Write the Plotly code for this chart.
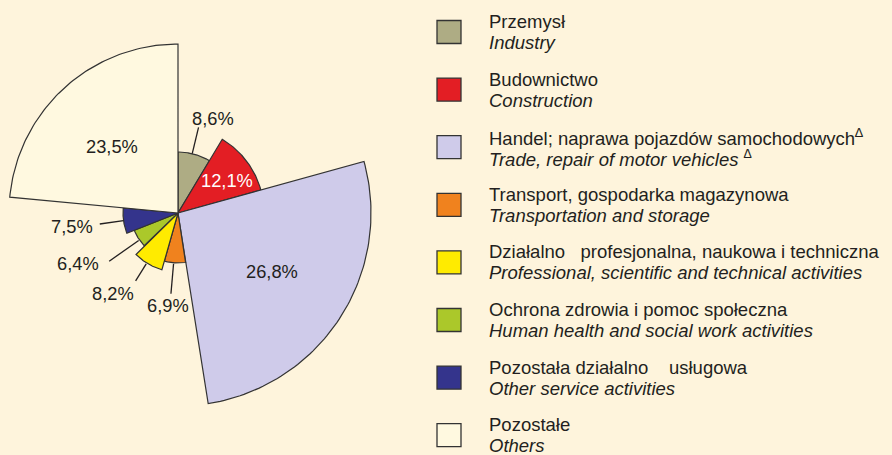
import numpy as np
import plotly.graph_objects as go

# sectors, Polish / English
sectors_pl = ["Przemysł", "Budownictwo", "Handel; naprawa pojazdów samochodowych<sup>∆</sup>",
              "Transport, gospodarka magazynowa", "Działalno   profesjonalna, naukowa i techniczna",
              "Ochrona zdrowia i pomoc społeczna", "Pozostała działalno    usługowa", "Pozostałe"]
sectors_en = ["Industry", "Construction", "Trade, repair of motor vehicles <sup>∆</sup>",
              "Transportation and storage", "Professional, scientific and technical activities",
              "Human health and social work activities", "Other service activities", "Others"]
shares = [8.6, 12.1, 26.8, 6.9, 8.2, 6.4, 7.5, 23.5]
share_labels = ["8,6%", "12,1%", "26,8%", "6,9%", "8,2%", "6,4%", "7,5%", "23,5%"]
# radius of each slice
radius = [61, 86, 193, 50, 59, 47, 55, 169]

colors = ["#AEAC84", "#E31E24", "#CFCBEA", "#F0821E", "#FFEB00", "#ABC82A", "#34348C", "#FFF9E0"]
bg = "#FEF4DC"
ink = "#231F20"
font = "Liberation Sans, Arial, sans-serif"


def polar_xy(r, deg):
    # clockwise from 12 o'clock
    t = np.radians(deg)
    return r * np.sin(t), r * np.cos(t)


widths = np.array(shares) * 3.6
starts = np.concatenate([[0], np.cumsum(widths)[:-1]])

fig = go.Figure()
for i in range(len(shares)):
    arc = np.linspace(starts[i], starts[i] + widths[i], 80)
    ax_, ay_ = polar_xy(radius[i], arc)
    fig.add_trace(go.Scatter(x=np.concatenate([[0], ax_, [0]]), y=np.concatenate([[0], ay_, [0]]),
                             mode="lines", fill="toself", fillcolor=colors[i],
                             line=dict(color="#333333", width=1.2),
                             showlegend=False, hoverinfo="skip"))

# label placement (r, theta) and leader lines (theta, r from, r to)
label_pos = [(101, 20), (59, 57), (111, 122), (93, 186), (103, 219), (112, 243), (107, 263), (94, 315)]
leaders = [(13.5, 61, 88), None, None, (185, 51, 81), (212, 60, 80), (235, 48, 84), (262, 55, 79), None]

for ld in leaders:
    if ld is None:
        continue
    th, r0, r1 = ld
    lx, ly = polar_xy(np.array([r0, r1]), th)
    fig.add_trace(go.Scatter(x=lx, y=ly, mode="lines", line=dict(color=ink, width=1.3),
                             showlegend=False, hoverinfo="skip"))

for i, (r, th) in enumerate(label_pos):
    tx, ty = polar_xy(r, th)
    fig.add_annotation(x=tx, y=ty, text=share_labels[i], showarrow=False,
                       font=dict(family=font, size=18.3, color="white" if i == 1 else ink))

W, H = 892, 455
cx, cy = 178, 213
fig.update_layout(
    width=W, height=H,
    margin=dict(l=0, r=0, t=0, b=0),
    paper_bgcolor=bg, plot_bgcolor=bg,
    xaxis=dict(range=[-cx, W - cx], visible=False, fixedrange=True),
    yaxis=dict(range=[cy - H, cy], visible=False, fixedrange=True),
)

# legend drawn by hand: boxes + two lines of text
row0, step = 32, 57.6
for i in range(len(shares)):
    yc = row0 + i * step
    fig.add_shape(type="rect", xref="paper", yref="paper",
                  x0=437 / W, x1=461 / W, y0=1 - (yc - 11.5) / H, y1=1 - (yc + 11.5) / H,
                  fillcolor=colors[i], line=dict(color="#333333", width=1.3))
    fig.add_annotation(x=487 / W, y=1 - (yc - 10.5) / H, xref="paper", yref="paper",
                       xanchor="left", yanchor="middle", showarrow=False, text=sectors_pl[i],
                       font=dict(family=font, size=18.5, color=ink))
    fig.add_annotation(x=487 / W, y=1 - (yc + 10.5) / H, xref="paper", yref="paper",
                       xanchor="left", yanchor="middle", showarrow=False, text="<i>" + sectors_en[i] + "</i>",
                       font=dict(family=font, size=18.5, color=ink))

fig.write_html("out.html", config={"displayModeBar": False},
               post_script="document.body.style.margin='0';document.body.style.overflow='hidden';"
                           "document.body.style.background='" + bg + "';")
